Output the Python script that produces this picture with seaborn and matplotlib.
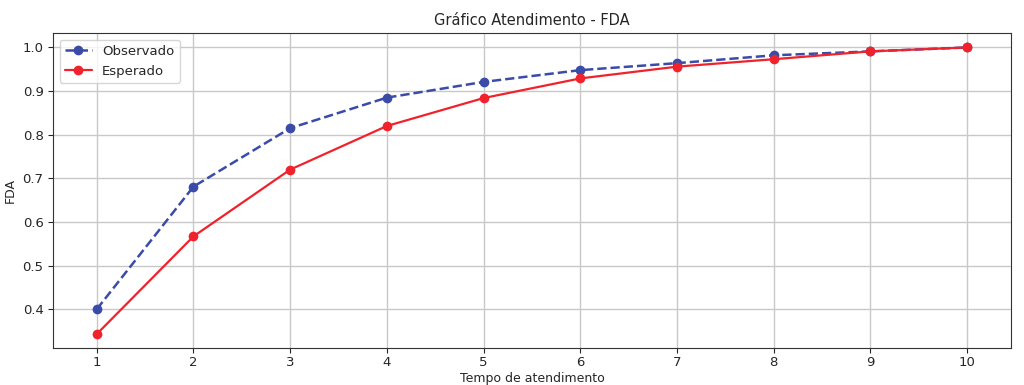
import numpy as np
import pandas as pd
import matplotlib
matplotlib.use('Agg')
import matplotlib.pyplot as plt
import seaborn as sns

# tempo de atendimento e FDA
tempo = [1, 2, 3, 4, 5, 6, 7, 8, 9, 10]
fda_observado = [0.400, 0.681, 0.815, 0.885, 0.921, 0.948, 0.964, 0.982, 0.991, 1.000]
fda_esperado = [0.343, 0.567, 0.720, 0.820, 0.884, 0.929, 0.956, 0.973, 0.991, 1.000]

sns.set_style('ticks')
plt.rcParams['font.family'] = ['DejaVu Sans']

fig, ax = plt.subplots(figsize=(10.24, 3.85), dpi=100)

sns.lineplot(x=tempo, y=fda_observado, ax=ax, color='#3B4BA8', linestyle='--',
             marker='o', markersize=7, markeredgewidth=0, linewidth=1.8,
             label='Observado')
sns.lineplot(x=tempo, y=fda_esperado, ax=ax, color='#F0222B', linestyle='-',
             marker='o', markersize=7, markeredgewidth=0, linewidth=1.6,
             label='Esperado')

ax.set_xticks(tempo)
ax.set_yticks(np.arange(0.4, 1.01, 0.1))
ax.set_yticklabels([f'{v:.1f}' for v in np.arange(0.4, 1.01, 0.1)])
ax.grid(True, color='#C8C8C8', linewidth=1)
ax.set_axisbelow(True)
for s in ax.spines.values():
    s.set_color('#333333')

ax.set_title('Gráfico Atendimento - FDA', fontsize=10.5)
ax.set_xlabel('Tempo de atendimento', fontsize=9, labelpad=2)
ax.set_ylabel('FDA', fontsize=9)
ax.tick_params(labelsize=9.5)
ax.tick_params(axis='x', pad=2)
ax.legend(loc='upper left', fontsize=9.5, frameon=True)

fig.subplots_adjust(left=0.052, right=0.987, top=0.914, bottom=0.095)
fig.savefig('out.png', dpi=100)
